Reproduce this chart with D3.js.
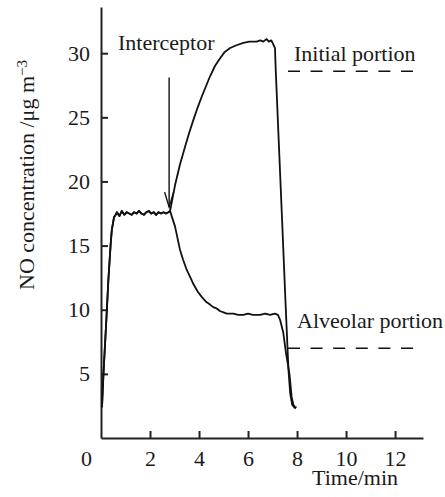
<!DOCTYPE html>
<html>
<head>
<meta charset="utf-8">
<script src="https://cdn.jsdelivr.net/npm/d3@7"></script>
<style>
  body { margin: 0; background: #fff; }
</style>
</head>
<body>
<div id="chart"></div>
<script>
// shared start-up (both traces overlap until the interceptor)
const sharedTime = [0.04, 0.1, 0.24, 0.3, 0.39, 0.44, 0.53, 0.6, 0.65, 0.75, 0.85, 0.95, 1.05, 1.15, 1.25, 1.35, 1.45, 1.55, 1.65, 1.75, 1.85, 1.95, 2.05, 2.15, 2.25, 2.35, 2.45, 2.55, 2.65, 2.75, 2.82]
const sharedValue = [2.4, 5.0, 10.0, 12.3, 15.0, 16.2, 17.2, 17.4, 17.6, 17.3, 17.7, 17.4, 17.6, 17.5, 17.4, 17.6, 17.5, 17.7, 17.5, 17.4, 17.6, 17.7, 17.5, 17.6, 17.4, 17.6, 17.5, 17.6, 17.5, 17.6, 17.7]

const initialTime = [3.02, 3.22, 3.43, 3.6, 3.77, 3.95, 4.11, 4.3, 4.45, 4.65, 4.86, 5.05, 5.27, 5.5, 5.81, 6.05, 6.35, 6.5, 6.62, 6.76, 6.85, 6.95, 7.05, 7.1, 7.13, 7.39, 7.52, 7.65, 7.72, 7.8, 7.88, 7.95]
const initialValue = [19.7, 21.3, 22.7, 23.8, 24.8, 25.8, 26.6, 27.5, 28.2, 29.0, 29.6, 30.1, 30.4, 30.6, 30.8, 30.9, 30.9, 31.0, 30.9, 31.1, 30.9, 31.0, 30.6, 30.4, 28.7, 17.0, 11.0, 5.3, 3.5, 2.6, 2.4, 2.3]

const alveolarTime = [2.9, 3.02, 3.12, 3.22, 3.35, 3.5, 3.65, 3.77, 3.95, 4.11, 4.3, 4.45, 4.58, 4.72, 4.85, 5.0, 5.13, 5.4, 5.6, 5.81, 6.0, 6.2, 6.49, 6.7, 6.9, 7.1, 7.22, 7.31, 7.44, 7.55, 7.69, 7.78, 7.85, 7.92, 7.98]
const alveolarValue = [17.2, 16.5, 15.6, 14.7, 13.9, 13.1, 12.5, 12.0, 11.4, 11.0, 10.6, 10.4, 10.2, 10.1, 9.9, 9.8, 9.7, 9.7, 9.6, 9.6, 9.7, 9.6, 9.6, 9.7, 9.6, 9.7, 9.6, 9.2, 8.2, 6.6, 5.0, 3.2, 2.6, 2.4, 2.4]

const xTicks = [0, 2, 4, 6, 8, 10, 12]
const yTicks = [5, 10, 15, 20, 25, 30]

// annotation levels
const initialLevel = 28.6
const alveolarLevel = 7.0
const interceptorTime = 2.78

const width = 445, height = 497
const serif = "'Liberation Serif', 'Times New Roman', 'DejaVu Serif', serif"
const fontSize = 22

const svg = d3.select("#chart").append("svg")
  .attr("width", width)
  .attr("height", height)
  .attr("font-family", serif)

const x = d3.scaleLinear().domain([0, 13.14]).range([101, 423])
const y = d3.scaleLinear().domain([0, 33.6]).range([438, 7])

// axes
const xAxis = svg.append("g")
  .attr("transform", "translate(0," + y(0) + ")")
  .call(d3.axisBottom(x).tickValues(xTicks).tickSizeInner(-7).tickSizeOuter(0).tickPadding(12))
const yAxis = svg.append("g")
  .attr("transform", "translate(" + x(0) + ",0)")
  .call(d3.axisLeft(y).tickValues(yTicks).tickSizeInner(-7).tickSizeOuter(0).tickPadding(11))

xAxis.attr("font-family", serif).attr("font-size", fontSize)
yAxis.attr("font-family", serif).attr("font-size", fontSize)
svg.selectAll(".domain, .tick line").attr("stroke", "#222").attr("stroke-width", 2)
svg.selectAll(".tick text").attr("fill", "#1a1a1a")
xAxis.selectAll(".tick").filter(d => d === 0).select("line").remove()
xAxis.selectAll(".tick").filter(d => d === 0).select("text").attr("x", -15)

// traces
const line = d3.line().x(d => x(d[0])).y(d => y(d[1]))
const shared = d3.zip(sharedTime, sharedValue)
const initial = shared.concat(d3.zip(initialTime, initialValue))
const alveolar = shared.concat(d3.zip(alveolarTime, alveolarValue))

svg.selectAll("path.trace")
  .data([initial, alveolar])
  .enter()
  .append("path")
  .attr("class", "trace")
  .attr("d", line)
  .attr("fill", "none")
  .attr("stroke", "#111")
  .attr("stroke-width", 1.8)
  .attr("stroke-linejoin", "round")

// interceptor arrow
const ax = x(interceptorTime), yTop = y(28.1), yTip = y(18.0)
svg.append("line")
  .attr("x1", ax).attr("x2", ax).attr("y1", yTop).attr("y2", yTip)
  .attr("stroke", "#111").attr("stroke-width", 1.4)
svg.append("path")
  .attr("d", "M" + (ax - 4.5) + "," + (yTip - 15) + "L" + ax + "," + yTip + "L" + (ax + 4.5) + "," + (yTip - 15))
  .attr("fill", "none").attr("stroke", "#111").attr("stroke-width", 1.4)

// dashed reference levels
svg.selectAll("line.level")
  .data([initialLevel, alveolarLevel])
  .enter()
  .append("line")
  .attr("class", "level")
  .attr("x1", x(7.63)).attr("x2", x(12.78))
  .attr("y1", d => y(d)).attr("y2", d => y(d))
  .attr("stroke", "#111").attr("stroke-width", 1.5)
  .attr("stroke-dasharray", "12,10.6")

// labels
const label = (tx, ty, s) => svg.append("text").attr("x", tx).attr("y", ty)
  .attr("font-size", fontSize).attr("fill", "#1a1a1a").text(s)
label(118, 50, "Interceptor")
label(294, 61, "Initial portion")
label(297, 328, "Alveolar portion")
label(312, 485, "Time/min")

const yLabel = svg.append("text")
  .attr("transform", "translate(34,290) rotate(-90)")
  .attr("font-size", fontSize)
  .attr("fill", "#1a1a1a")
yLabel.append("tspan").text("NO concentration /\u03bcg m")
yLabel.append("tspan").attr("dy", "-0.45em").attr("font-size", 15).text("\u22123")
</script>
</body>
</html>
